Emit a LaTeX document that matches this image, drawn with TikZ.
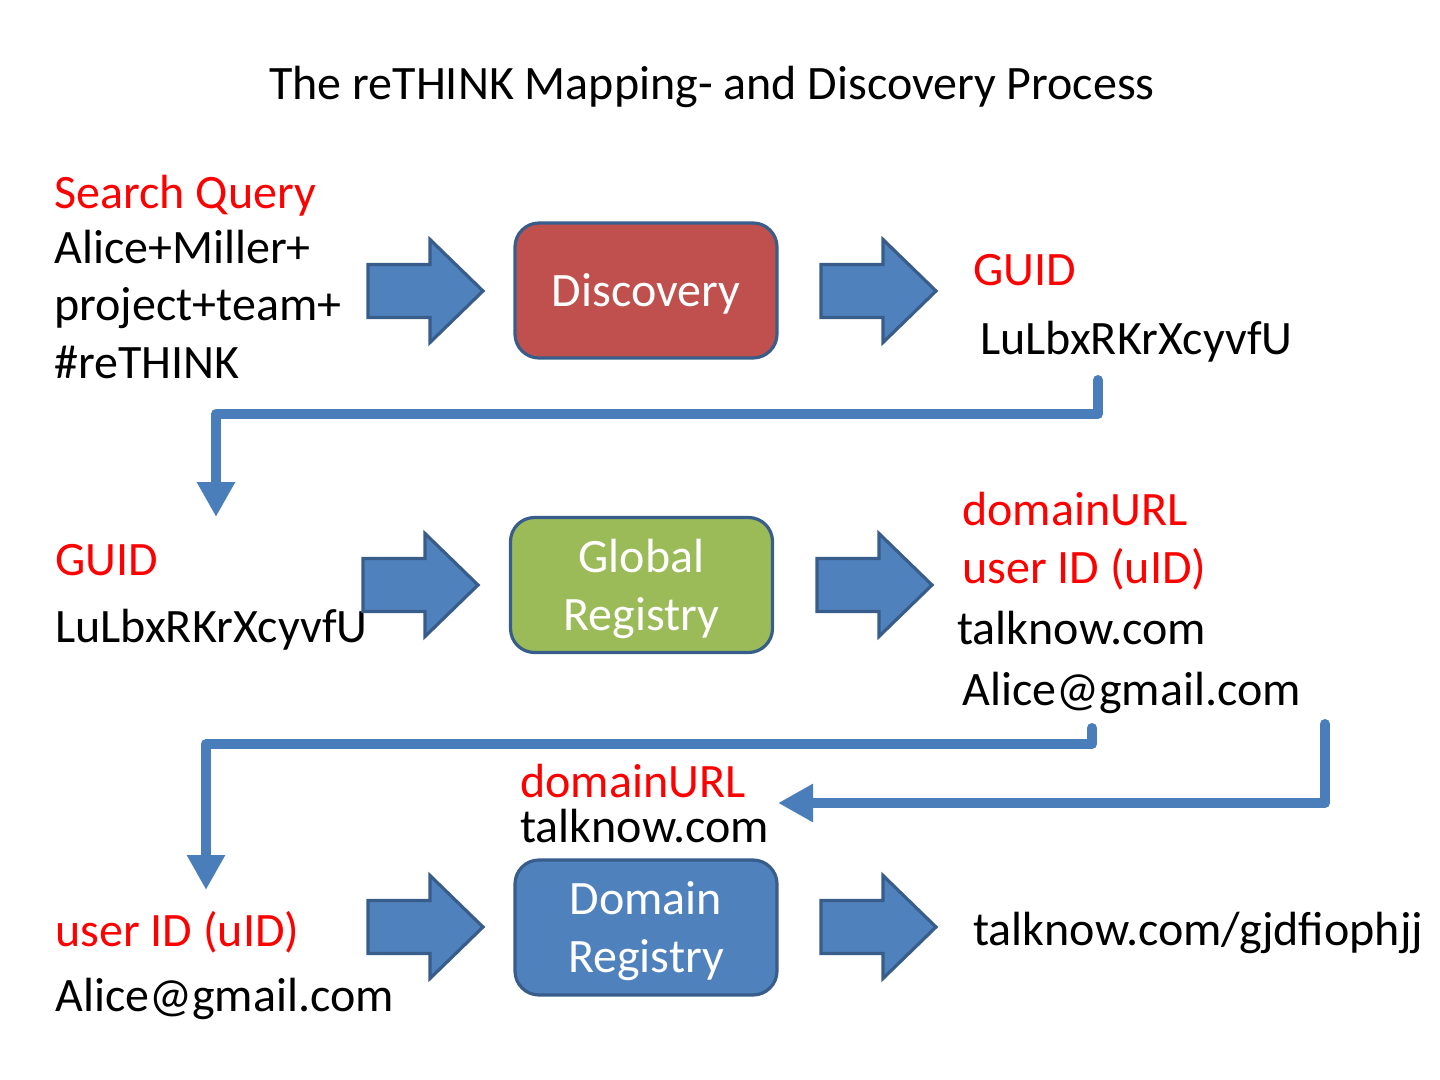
\documentclass[tikz,border=0pt]{standalone}
\usepackage{fontspec}
\setmainfont{Carlito}
\usetikzlibrary{arrows.meta}
\definecolor{arrfill}{HTML}{4F81BD}
\definecolor{arrline}{HTML}{385D8A}
\definecolor{conn}{HTML}{4A7EBB}
\definecolor{discfill}{HTML}{C0504D}
\definecolor{globfill}{HTML}{9BBB59}
\definecolor{domfill}{HTML}{4F81BD}
\definecolor{qred}{HTML}{FF0000}
\newcommand{\boxlines}[1]{\raisebox{-2.4pt}[\height][\depth]{\begin{tabular}{@{}c@{}}#1\end{tabular}}}
\tikzset{
  txt/.style={anchor=base west, inner sep=0pt, font=\fontsize{24pt}{29pt}\selectfont},
  redtxt/.style={txt, text=qred},
  procbox/.style={draw=arrline, line width=1.6pt, rounded corners=12pt,
    minimum width=131pt, minimum height=67.5pt, inner sep=0pt, text=white,
    align=center, font=\fontsize{24pt}{29pt}\selectfont},
  conline/.style={draw=conn, line width=5pt, line cap=round, line join=round},
  conarrow/.style={conline, -{Triangle[width=18pt,length=17.5pt]}},
  pics/barrow/.style={code={
    \draw[fill=arrfill, draw=arrline, line width=1.6pt, line join=miter]
      (0,-26.5) -- (62,-26.5) -- (62,-51.5) -- (115,0) -- (62,51.5)
      -- (62,26.5) -- (0,26.5) -- cycle;}}
}
\begin{document}
\begin{tikzpicture}[x=0.5pt, y=-0.5pt]
\useasboundingbox (0,0) rectangle (1440,1080);

% title
\node[txt, anchor=base] (title) at (712,100) {The reTHINK Mapping- and Discovery Process};

% row 1
\node[redtxt] (sq) at (54,209) {Search Query};
\node[txt] (q1) at (54,264) {Alice+Miller+};
\node[txt] (q2) at (54,321) {project+team+};
\node[txt] (q3) at (54,379) {\#reTHINK};
\pic (a1) at (368,291) {barrow};
\node[procbox, fill=discfill] (disc) at (646,290.5) {\boxlines{Discovery}};
\pic (a2) at (821,291) {barrow};
\node[redtxt] (guid1) at (973,286) {GUID};
\node[txt] (guidv1) at (980,355) {LuLbxRKrXcyvfU};

% connector 1
\coordinate (c1s) at (1098,380);
\coordinate (c1e) at (216,517);
\draw[conarrow] (c1s) |- (216,414) -- (c1e);

% row 2
\node[redtxt] (guid2) at (55,575) {GUID};
\node[txt] (guidv2) at (55,642) {LuLbxRKrXcyvfU};
\pic (a3) at (363,585) {barrow};
\node[procbox, fill=globfill] (glob) at (641.5,585) {\boxlines{Global\\Registry}};
\pic (a4) at (817,585) {barrow};
\node[redtxt] (durl1) at (962,525) {domainURL};
\node[redtxt] (uid1) at (962,583) {user ID (uID)};
\node[txt] (tn1) at (957,644) {talknow.com};
\node[txt] (al1) at (962,705) {Alice@gmail.com};

% connector 2
\coordinate (c2s) at (1092,728);
\coordinate (c2e) at (206,890);
\draw[conarrow] (c2s) |- (206,744) -- (c2e);

% connector 3
\coordinate (c3s) at (1325,724);
\coordinate (c3e) at (778,803);
\draw[conarrow] (c3s) |- (c3e);

\node[redtxt] (durl2) at (520,797) {domainURL};
\node[txt] (tn2) at (520,842) {talknow.com};

% row 3
\node[redtxt] (uid2) at (55,946) {user ID (uID)};
\node[txt] (al2) at (55,1011) {Alice@gmail.com};
\pic (a5) at (368,927) {barrow};
\node[procbox, fill=domfill] (dom) at (646,927.5) {\boxlines{Domain\\Registry}};
\pic (a6) at (821,927) {barrow};
\node[txt] (res) at (973,945) {talknow.com/gjdfiophjj};
\end{tikzpicture}
\end{document}
